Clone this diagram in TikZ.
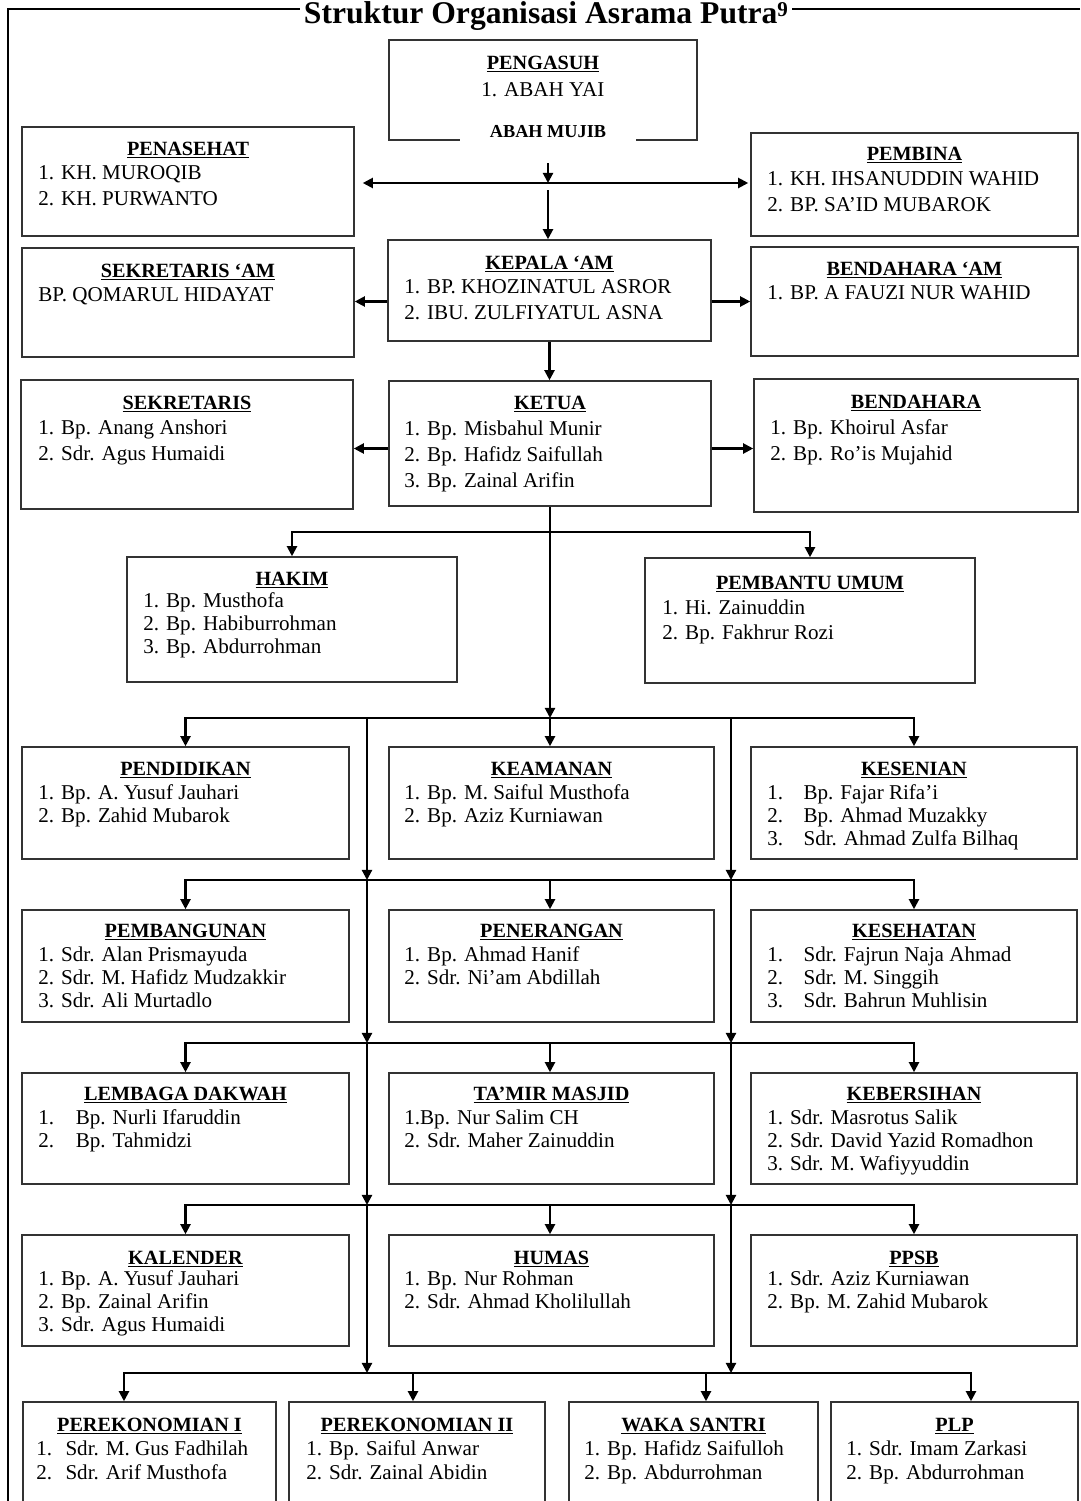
\documentclass[tikz,border=0pt]{standalone}
\usepackage{fontspec}
\setmainfont{Liberation Serif}
\usepackage{tikz}
\usetikzlibrary{arrows.meta,fit}

\begin{document}
\begin{tikzpicture}[x=0.02cm, y=-0.02cm,
    unitbox/.style={draw=black!80, line width=0.9pt, inner sep=0pt},
    unithead/.style={font=\bfseries\fontsize{11.5}{13}\selectfont, anchor=base, inner sep=0pt},
    unitlist/.style={font=\fontsize{12}{13}\selectfont, align=left, anchor=north west, inner sep=0pt},
    unitlistwide/.style={unitlist, font=\fontsize{12}{14.7}\selectfont},
    conn/.style={-{Triangle[length=5.8pt,width=5.8pt]}, line width=1.2pt},
    conn2/.style={{Triangle[length=5.8pt,width=5.8pt]}-{Triangle[length=5.8pt,width=5.8pt]}, line width=1.2pt}]
    \useasboundingbox (0,0) rectangle (1080,1501);
    \clip (0,0) rectangle (1080,1501);
    % Frame and title
    \draw[line width=0.8pt] (1080,9) -- (8,9) -- (8,1501);
    \node[fill=white, inner sep=2pt, anchor=base, font=\bfseries\fontsize{18}{20}\selectfont] (title) at (546,24) {Struktur Organisasi Asrama Putra\raisebox{4.5pt}{\fontsize{12}{12}\selectfont 9}};
    % Pengasuh
    \node[unitbox, fit={(389,40)(697,140)}] (pengasuh) {};
    \node[unithead] (pengasuh-h) at (543,69) {\underline{PENGASUH}};
    \node[unitlistwide] (pengasuh-l) at (481,82.5) {1. ABAH YAI};
    \node[fill=white, minimum width=3.52cm, minimum height=0.68cm, inner sep=0pt, font=\bfseries\fontsize{10.4}{12}\selectfont] (mujib) at (548,132) {ABAH MUJIB};
    % Penasehat
    \node[unitbox, fit={(22,127)(354,236)}] (penasehat) {};
    \node[unithead] (penasehat-h) at (188,155) {\underline{PENASEHAT}};
    \node[unitlistwide] (penasehat-l) at (38,165.5) {1. KH. MUROQIB\\2. KH. PURWANTO};
    % Pembina
    \node[unitbox, fit={(751,133)(1078,236)}] (pembina) {};
    \node[unithead] (pembina-h) at (914.5,160) {\underline{PEMBINA}};
    \node[unitlistwide] (pembina-l) at (767,171.5) {1. KH. IHSANUDDIN WAHID\\2. BP. SA'ID MUBAROK};
    % Kepala 'Am
    \node[unitbox, fit={(388,240)(711,341)}] (kepala) {};
    \node[unithead] (kepala-h) at (549.5,269) {\underline{KEPALA `AM}};
    \node[unitlistwide] (kepala-l) at (404,279.5) {1. BP. KHOZINATUL ASROR\\2. IBU. ZULFIYATUL ASNA};
    % Sekretaris 'Am
    \node[unitbox, fit={(22,248)(354,357)}] (sekam) {};
    \node[unithead] (sekam-h) at (188,277) {\underline{SEKRETARIS `AM}};
    \node[unitlistwide] (sekam-l) at (38,287.5) {BP. QOMARUL HIDAYAT};
    % Bendahara 'Am
    \node[unitbox, fit={(751,247)(1078,356)}] (bendam) {};
    \node[unithead] (bendam-h) at (914.5,275) {\underline{BENDAHARA `AM}};
    \node[unitlistwide] (bendam-l) at (767,285.5) {1. BP. A FAUZI NUR WAHID};
    % Ketua
    \node[unitbox, fit={(389,381)(711,506)}] (ketua) {};
    \node[unithead] (ketua-h) at (550,409) {\underline{KETUA}};
    \node[unitlistwide] (ketua-l) at (404,420.5) {1. Bp. Misbahul Munir\\2. Bp. Hafidz Saifullah\\3. Bp. Zainal Arifin};
    % Sekretaris
    \node[unitbox, fit={(21,380)(353,509)}] (sekretaris) {};
    \node[unithead] (sekretaris-h) at (187,409) {\underline{SEKRETARIS}};
    \node[unitlistwide] (sekretaris-l) at (38,419.5) {1. Bp. Anang Anshori\\2. Sdr. Agus Humaidi};
    % Bendahara
    \node[unitbox, fit={(754,379)(1078,512)}] (bendahara) {};
    \node[unithead] (bendahara-h) at (916,408) {\underline{BENDAHARA}};
    \node[unitlistwide] (bendahara-l) at (770,419.5) {1. Bp. Khoirul Asfar\\2. Bp. Ro'is Mujahid};
    % Hakim
    \node[unitbox, fit={(127,557)(457,682)}] (hakim) {};
    \node[unithead] (hakim-h) at (292,585) {\underline{HAKIM}};
    \node[unitlist] (hakim-l) at (143,592.5) {1. Bp. Musthofa\\2. Bp. Habiburrohman\\3. Bp. Abdurrohman};
    % Pembantu Umum
    \node[unitbox, fit={(645,558)(975,683)}] (pembantu) {};
    \node[unithead] (pembantu-h) at (810,589) {\underline{PEMBANTU UMUM}};
    \node[unitlist, font=\fontsize{12}{14.2}\selectfont] (pembantu-l) at (662,599.5) {1. Hi. Zainuddin\\2. Bp. Fakhrur Rozi};
    % Row 1 of sections
    \node[unitbox, fit={(22,747)(349,859)}] (pendidikan) {};
    \node[unithead] (pendidikan-h) at (185.5,775) {\underline{PENDIDIKAN}};
    \node[unitlist] (pendidikan-l) at (38,784.5) {1. Bp. A. Yusuf Jauhari\\2. Bp. Zahid Mubarok};
    \node[unitbox, fit={(389,747)(714,859)}] (keamanan) {};
    \node[unithead] (keamanan-h) at (551.5,775) {\underline{KEAMANAN}};
    \node[unitlist] (keamanan-l) at (404,784.5) {1. Bp. M. Saiful Musthofa\\2. Bp. Aziz Kurniawan};
    \node[unitbox, fit={(751,747)(1077,859)}] (kesenian) {};
    \node[unithead] (kesenian-h) at (914,775) {\underline{KESENIAN}};
    \node[unitlist] (kesenian-l) at (767,784.5) {\makebox[20.6pt][l]{1.}Bp. Fajar Rifa'i\\\makebox[20.6pt][l]{2.}Bp. Ahmad Muzakky\\\makebox[20.6pt][l]{3.}Sdr. Ahmad Zulfa Bilhaq};
    % Row 2 of sections
    \node[unitbox, fit={(22,910)(349,1022)}] (pembangunan) {};
    \node[unithead] (pembangunan-h) at (185.5,937) {\underline{PEMBANGUNAN}};
    \node[unitlist] (pembangunan-l) at (38,946.5) {1. Sdr. Alan Prismayuda\\2. Sdr. M. Hafidz Mudzakkir\\3. Sdr. Ali Murtadlo};
    \node[unitbox, fit={(389,910)(714,1022)}] (penerangan) {};
    \node[unithead] (penerangan-h) at (551.5,937) {\underline{PENERANGAN}};
    \node[unitlist] (penerangan-l) at (404,946.5) {1. Bp. Ahmad Hanif\\2. Sdr. Ni'am Abdillah};
    \node[unitbox, fit={(751,910)(1077,1022)}] (kesehatan) {};
    \node[unithead] (kesehatan-h) at (914,937) {\underline{KESEHATAN}};
    \node[unitlist] (kesehatan-l) at (767,946.5) {\makebox[20.6pt][l]{1.}Sdr. Fajrun Naja Ahmad\\\makebox[20.6pt][l]{2.}Sdr. M. Singgih\\\makebox[20.6pt][l]{3.}Sdr. Bahrun Muhlisin};
    % Row 3 of sections
    \node[unitbox, fit={(22,1073)(349,1184)}] (dakwah) {};
    \node[unithead] (dakwah-h) at (185.5,1100) {\underline{LEMBAGA DAKWAH}};
    \node[unitlist] (dakwah-l) at (38,1109.5) {\makebox[21.3pt][l]{1.}Bp. Nurli Ifaruddin\\\makebox[21.3pt][l]{2.}Bp. Tahmidzi};
    \node[unitbox, fit={(389,1073)(714,1184)}] (takmir) {};
    \node[unithead] (takmir-h) at (551.5,1100) {\underline{TA'MIR MASJID}};
    \node[unitlist] (takmir-l) at (404,1109.5) {1.Bp. Nur Salim CH\\2. Sdr. Maher Zainuddin};
    \node[unitbox, fit={(751,1073)(1077,1184)}] (kebersihan) {};
    \node[unithead] (kebersihan-h) at (914,1100) {\underline{KEBERSIHAN}};
    \node[unitlist] (kebersihan-l) at (767,1109.5) {1. Sdr. Masrotus Salik\\2. Sdr. David Yazid Romadhon\\3. Sdr. M. Wafiyyuddin};
    % Row 4 of sections
    \node[unitbox, fit={(22,1235)(349,1346)}] (kalender) {};
    \node[unithead] (kalender-h) at (185.5,1264) {\underline{KALENDER}};
    \node[unitlist] (kalender-l) at (38,1270.5) {1. Bp. A. Yusuf Jauhari\\2. Bp. Zainal Arifin\\3. Sdr. Agus Humaidi};
    \node[unitbox, fit={(389,1235)(714,1346)}] (humas) {};
    \node[unithead] (humas-h) at (551.5,1264) {\underline{HUMAS}};
    \node[unitlist] (humas-l) at (404,1270.5) {1. Bp. Nur Rohman\\2. Sdr. Ahmad Kholilullah};
    \node[unitbox, fit={(751,1235)(1077,1346)}] (ppsb) {};
    \node[unithead] (ppsb-h) at (914,1264) {\underline{PPSB}};
    \node[unitlist] (ppsb-l) at (767,1270.5) {1. Sdr. Aziz Kurniawan\\2. Bp. M. Zahid Mubarok};
    % Bottom row
    \node[unitbox, fit={(23,1402)(276,1530)}] (perek1) {};
    \node[unithead] (perek1-h) at (149.5,1431) {\underline{PEREKONOMIAN I}};
    \node[unitlist, font=\fontsize{12}{13.6}\selectfont] (perek1-l) at (36,1440.5) {\makebox[16.6pt][l]{1.}Sdr. M. Gus Fadhilah\\\makebox[16.6pt][l]{2.}Sdr. Arif Musthofa};
    \node[unitbox, fit={(289,1402)(545,1530)}] (perek2) {};
    \node[unithead] (perek2-h) at (417,1431) {\underline{PEREKONOMIAN II}};
    \node[unitlist, font=\fontsize{12}{13.6}\selectfont] (perek2-l) at (306,1440.5) {1. Bp. Saiful Anwar\\2. Sdr. Zainal Abidin};
    \node[unitbox, fit={(569,1402)(818,1530)}] (waka) {};
    \node[unithead] (waka-h) at (693.5,1431) {\underline{WAKA SANTRI}};
    \node[unitlist, font=\fontsize{12}{13.6}\selectfont] (waka-l) at (584,1440.5) {1. Bp. Hafidz Saifulloh\\2. Bp. Abdurrohman};
    \node[unitbox, fit={(831,1402)(1078,1530)}] (plp) {};
    \node[unithead] (plp-h) at (954.5,1431) {\underline{PLP}};
    \node[unitlist, font=\fontsize{12}{13.6}\selectfont] (plp-l) at (846,1440.5) {1. Sdr. Imam Zarkasi\\2. Bp. Abdurrohman};
    % Junctions
    \coordinate (hub) at (548,183);
    \coordinate (br) at (550,532);
    \coordinate (bus1) at (550,718);
    \coordinate (bus2) at (550,880);
    \coordinate (bus3) at (550,1043);
    \coordinate (bus4) at (550,1205);
    \coordinate (bus5) at (550,1373);
    \coordinate (railL) at (367,718);
    \coordinate (railR) at (731,718);
    \coordinate (kw) at ([shift={(0,11)}]kepala.west);
    \coordinate (ke) at ([shift={(0,11)}]kepala.east);
    \coordinate (tw) at ([shift={(0,5)}]ketua.west);
    \coordinate (te) at ([shift={(0,5)}]ketua.east);
    \coordinate (p1) at ([shift={(-25.5,0)}]perek1.north);
    \coordinate (p2) at ([shift={(-4,0)}]perek2.north);
    \coordinate (p3) at ([shift={(12.5,0)}]waka.north);
    \coordinate (p4) at ([shift={(16.5,0)}]plp.north);
    % Top connectors
    \draw[conn] ([shift={(0,14)}]mujib.south) -- (hub);
    \draw[conn2, shorten <=0.16cm, shorten >=0.04cm] (penasehat.east |- hub) -- (pembina.west |- hub);
    \draw[conn, shorten <=0.14cm] (hub) -- (hub |- kepala.north);
    \draw[conn] (kw) -- (kw -| sekam.east);
    \draw[conn] (ke) -- (ke -| bendam.west);
    \draw[conn] (kepala.south) -- (kepala.south |- ketua.north);
    \draw[conn] (tw) -- (tw -| sekretaris.east);
    \draw[conn] (te) -- (te -| bendahara.west);
    \draw[conn] (ketua.south) -- (ketua.south |- bus1);
    \draw[conn] (br) -| (hakim.north);
    \draw[conn] (br) -| (pembantu.north);
    % Bus 1
    \draw[conn] (bus1) -| (pendidikan.north);
    \draw[conn] (bus1) -| (kesenian.north);
    \draw[conn] (bus1) -- (bus1 |- keamanan.north);
    \draw[conn] (railL) -- (railL |- bus2);
    \draw[conn] (railR) -- (railR |- bus2);
    % Bus 2
    \draw[conn] (bus2) -| (pembangunan.north);
    \draw[conn] (bus2) -| (kesehatan.north);
    \draw[conn] (bus2) -- (bus2 |- penerangan.north);
    \draw[conn] (railL |- bus2) -- (railL |- bus3);
    \draw[conn] (railR |- bus2) -- (railR |- bus3);
    % Bus 3
    \draw[conn] (bus3) -| (dakwah.north);
    \draw[conn] (bus3) -| (kebersihan.north);
    \draw[conn] (bus3) -- (bus3 |- takmir.north);
    \draw[conn] (railL |- bus3) -- (railL |- bus4);
    \draw[conn] (railR |- bus3) -- (railR |- bus4);
    % Bus 4
    \draw[conn] (bus4) -| (kalender.north);
    \draw[conn] (bus4) -| (ppsb.north);
    \draw[conn] (bus4) -- (bus4 |- humas.north);
    \draw[conn] (railL |- bus4) -- (railL |- bus5);
    \draw[conn] (railR |- bus4) -- (railR |- bus5);
    % Bus 5
    \draw[conn] (bus5) -| (p1);
    \draw[conn] (bus5) -| (p2);
    \draw[conn] (bus5) -| (p3);
    \draw[conn] (bus5) -| (p4);
\end{tikzpicture}
\end{document}
